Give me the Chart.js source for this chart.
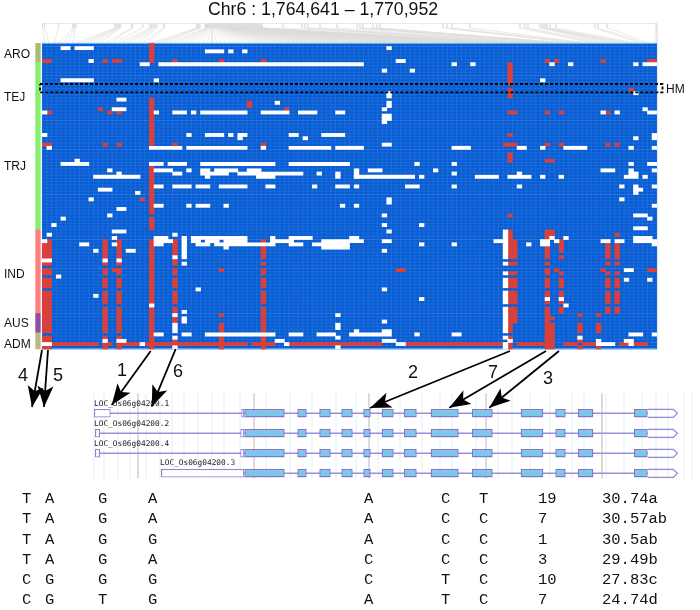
<!DOCTYPE html>
<html>
<head>
<meta charset="utf-8">
<title>Chr6 haplotypes</title>
<script src="https://cdn.jsdelivr.net/npm/chart.js@4/dist/chart.umd.js"></script>
<style>
  html, body { margin: 0; background: #fff; }
  #page { position: relative; width: 700px; height: 610px; overflow: hidden; }
  #page canvas { position: absolute; left: 0; top: 0; }
  .t { position: absolute; white-space: pre; line-height: 1; font-family: "Liberation Sans", sans-serif; color: #111; transform: translateY(-50%); }
  .mono { font-family: "Liberation Mono", monospace; font-size: 15.5px; color: #111; }
  .gene { font-family: "DejaVu Sans Mono", monospace; font-size: 7.8px; color: #222; }
</style>
</head>
<body>
<div id="page"><canvas id="c" width="700" height="610"></canvas></div>
<script>
// heat map: 95 accessions (rows) x 132 variants (columns)
const rowCount = 95;
const colCount = 132;

// accession groups: name, first row, last row
const groupNames = ['ARO', 'TRJ', 'IND', 'AUS', 'ADM'];
const groupFirst = [0, 6, 58, 84, 90];
const groupLast = [5, 57, 83, 89, 94];
const groupColors = ['#a8bd72', '#84f070', '#ff7f7f', '#8e4f9f', '#b9ba7c'];

// [row, fromCol, toCol) - missing calls
const missRuns = [
  [1,4,6],[1,7,11],[1,74,75],[2,35,39],[2,40,41],[2,43,44],[5,10,11],[5,76,78],
  [6,21,23],[6,25,69],[6,88,89],[6,92,93],[6,109,110],[6,113,114],[6,127,128],[6,129,132],
  [8,73,74],[8,79,80],[11,4,11],[11,24,25],[11,107,108],[15,127,128],[17,16,18],[18,50,51],
  [20,15,18],[20,73,74],[20,129,130],[21,0,1],[21,24,25],[21,28,31],[21,32,33],[21,34,44],
  [21,47,53],[21,55,59],[21,63,65],[21,120,121],[21,123,124],[21,130,132],[22,73,75],[23,73,75],[24,73,74],
  [28,0,1],[28,31,32],[28,35,39],[28,40,41],[28,42,44],[28,53,55],[28,60,65],[29,42,43],[29,56,57],[29,127,128],
  [31,73,75],[32,1,2],[32,23,30],[32,31,44],[32,47,48],[32,53,62],[32,63,69],[32,88,92],[32,102,104],
  [32,107,108],[32,112,117],[32,126,127],[32,131,132],[36,7,8],[37,4,10],[37,23,26],[37,27,31],[37,34,50],
  [37,53,66],[37,80,81],[37,88,89],[37,126,127],[37,130,132],[39,14,15],[39,24,28],[39,31,32],[39,34,36],
  [39,37,42],[39,44,47],[39,70,73],[39,84,85],[39,120,123],[39,126,127],[39,131,132],[40,16,17],[40,28,30],
  [40,34,40],[40,42,56],[40,59,60],[40,63,64],[40,88,89],[40,102,103],[40,126,128],[41,11,21],[41,35,36],
  [41,46,50],[41,63,64],[41,67,80],[41,81,82],[41,93,98],[41,100,105],[41,107,108],[41,111,112],[41,125,128],[41,129,130],
  [44,24,26],[44,28,32],[44,33,36],[44,38,44],[44,48,50],[44,58,59],[44,63,66],[44,67,68],[44,78,81],[44,88,89],
  [44,102,103],[44,124,125],[44,127,128],[44,131,132],[45,12,15],[45,127,129],[46,20,21],[46,127,128],
  [48,10,11],[48,74,75],[48,124,125],[49,74,75],[50,24,26],[50,31,32],[50,33,36],[50,39,40],[50,64,65],[50,67,68],[50,131,132],
  [51,16,18],[53,14,15],[53,73,74],[53,127,130],[54,4,5],[54,130,131],[56,2,3],[56,73,74],[56,81,82],[57,127,130],
  [58,15,18],[58,74,75],[59,1,2],
  [60,15,16],[60,24,27],[60,32,44],[60,53,58],[60,66,68],[60,109,110],[60,112,113],[60,127,131],
  [61,0,1],[61,24,28],[61,32,34],[61,35,38],[61,39,44],[61,50,54],[61,60,69],[61,73,75],[61,97,99],[61,107,109],
  [61,110,111],[61,120,122],[61,123,125],[61,127,132],
  [62,8,10],[62,15,16],[62,24,26],[62,33,36],[62,37,49],[62,53,56],[62,58,66],[62,81,82],[62,88,89],[62,104,105],[62,107,109],[62,131,132],
  [63,39,40],[63,60,66],[64,11,12],[64,18,20],[64,73,74],[67,0,2],[67,13,14],[67,16,17],
  [70,125,127],[72,3,4],[73,125,126],[73,130,131],[76,33,34],[76,73,74],[78,11,12],[79,81,82],
  [79,108,109],[79,111,112],[81,23,24],[81,112,113],[86,73,74],[89,67,68],[89,73,75],
  [90,24,26],[90,30,32],[90,35,50],[90,53,56],[90,59,63],[90,66,75],[90,80,81],[90,88,90],[90,126,129],[90,131,132],
  [92,13,14],[92,16,18],[92,50,52],[92,73,76],[92,100,101],[92,119,120],[92,125,127],
  [93,0,2],[93,21,22],[93,52,53],[93,76,78],[93,119,123],[93,126,127]
];
// [col, fromRow, toRow] - missing calls running down a column
const missCols = [
  [99,58,66],[99,68,68],[99,71,71],[99,73,75],[99,77,80],[99,82,89],[99,91,91],[99,93,94],
  [30,60,66],[30,68,68],[30,83,83],[30,85,86],
  [28,59,59],[28,66,66],[28,84,84],[28,87,89],[28,91,91],[28,94,94],
  [63,84,84],[63,87,88],[63,91,91],[63,94,94],[49,60,62],[67,39,41],[74,15,16],[74,18,19],[131,28,29],[115,91,91]
];
// [row, fromCol, toCol) - alternate allele
const altRuns = [
  [5,0,2],[5,13,14],[5,15,17],[5,28,29],[5,38,39],[5,47,48],[5,108,109],[5,110,111],[5,120,121],[5,130,132],
  [14,126,127],[20,12,13],[20,52,53],[21,1,2],[21,14,15],[21,16,17],[21,100,102],[21,108,109],[21,111,112],[21,121,122],
  [31,0,2],[31,13,14],[31,16,17],[31,28,29],[31,47,48],[31,99,102],[31,108,109],[31,111,112],[31,121,122],[31,123,124],
  [36,108,110],[48,21,22],[70,15,17],[70,76,78],[70,110,111],[70,120,121],[70,130,132],
  [93,2,12],[93,13,15],[93,17,21],[93,22,28],[93,29,44],[93,45,50],[93,53,66],[93,66,73],[93,78,99],
  [93,102,108],[93,112,115],[93,116,119],[93,124,126],[93,127,130]
];
// [col, fromRow, toRow] - alternate allele running down a column
const altCols = [
  [23,0,5],[23,17,31],[23,38,52],[23,54,57],[23,61,80],[23,82,94],
  [0,62,66],[0,68,68],[0,70,71],[0,73,75],[0,77,89],[0,91,92],[0,94,94],
  [1,61,66],[1,68,68],[1,70,71],[1,73,75],[1,77,89],[1,91,92],[1,94,94],
  [13,61,66],[13,68,68],[13,70,71],[13,73,75],[13,77,80],[13,82,89],[13,91,91],[13,93,94],
  [16,61,66],[16,68,68],[16,70,71],[16,73,75],[16,77,80],[16,82,89],[16,91,91],[16,93,94],
  [28,61,65],[28,67,68],[28,70,71],[28,73,75],[28,77,80],[28,82,83],[28,85,86],[28,92,93],
  [47,61,66],[47,68,68],[47,70,71],[47,73,75],[47,77,80],[47,82,89],[47,91,94],
  [38,70,70],[38,84,84],[38,87,89],[38,91,92],[38,94,94],[44,18,19],
  [100,6,12],[100,14,16],[100,28,28],[100,34,36],[100,53,53],[100,58,66],[100,68,68],[100,71,71],[100,73,75],[100,77,80],[100,82,89],[100,91,91],[100,93,94],
  [101,61,66],[101,68,68],[101,71,71],[101,73,75],[101,77,80],[101,82,86],
  [108,58,60],[108,62,66],[108,68,68],[108,70,71],[108,73,75],[108,77,78],[108,80,80],[108,82,94],
  [109,58,59],[109,85,85],[109,87,94],
  [111,61,64],[111,66,66],[111,71,71],[111,73,75],[111,77,78],[111,80,80],[111,82,83],
  [121,62,66],[121,68,68],[121,71,71],[121,73,75],[121,77,80],[121,82,83],
  [123,59,59],[123,62,66],[123,68,68],[123,71,71],[123,73,75],[123,77,80],[123,82,83],
  [115,84,84],[115,87,89],[115,92,92],[115,94,94],
  [119,84,84],[119,87,89],[119,92,94]
];

// where each column's variant sits on the region ruler above the heat map
const rulerTicks = [
  42.5,44.3,58.5,72.7,73.7,74.7,76,115,116.2,117.3,118.4,119.5,120.7,131.7,132.7,142.7,150,151.7,153.3,155,156.7,163.5,164.3,196.7,197.7,198.8,200,
  205,205.8,206.5,207.5,208.2,209,209.6,210.5,211.2,212,212.8,213.5,214.4,215,215.8,216.6,217.5,218,218.9,219.7,
  220.5,221.2,222,222.8,223.5,224.3,225,225.9,226.6,227.4,228.2,229,229.7,230.5,231.2,232,232.8,233.5,234.4,235,
  235.8,236.6,237.5,238.1,239,239.7,240.5,241.2,242,242.8,243.6,244.4,245,245.9,246.6,247.4,248.2,249,249.7,250.5,
  251.2,252,252.8,253.6,254.4,255,255.9,256.7,257.5,258.2,259,259.8,260.5,261.3,262,
  283,302,305,308,320,337,357,360,363,373,377,380,443,447,452,470,520,525,528,540,542,544,546,547,550,556,595,598,607,656
];

// gene models, positions along the locus; one list per transcript
const geneNames = ['LOC_Os06g04200.1', 'LOC_Os06g04200.2', 'LOC_Os06g04200.4', 'LOC_Os06g04200.3'];
const geneStart = [0, 1, 1, 67];
const utr5Ends = [16.7, 6, 6, 150.3];
const utr5b = [147.3, 146.3, 146.3, 150.3];
const cdsStart = 150.3;
const cds = [
  [150.3,190.7],[203.3,212.7],[225.3,236.7],[247.3,258.7],[269.3,276.7],[287.7,299.7],[310,322.7],
  [336.7,364.7],[378,398.7],[426.7,449.3],[461.3,471.7],[484,499.3],[540,553.7]
];
const utr3 = [553.7, 579.3];
const geneTip = 583.3;
const darkLines = [44, 160, 275, 392, 508];
const paleLines = [0,10,24,36,52,66,78,90,104,118,130,146,172,196,218,242,262,284,306,328,346,358,382,404,418,436,456,478,490,
  512,530,548,562,574,590,598,610];

// variants called out in the heat map: label, column-side point, gene-side point
const arrowNames = ['4', '5', '1', '6', '2', '7', '3'];
const arrowFrom = [[42,350],[48,350],[150.7,351],[175.7,349],[510,351],[546,351],[559,351]];
const arrowTo = [[32,407],[44,407],[111.7,405],[151.7,406.7],[370,408],[449.3,407.7],[489.3,407.7]];
const arrowLabelAt = [[18,375],[53,375],[117,370],[173,371],[408,372],[488,372],[543,378]];

// haplotype table
const haplotypes = ['TAGAACT', 'TAGAACC', 'TAGGACC', 'TAGACCC', 'CGGGCTC', 'CGTGATC'];
const hapCounts = ['19', '7', '1', '3', '10', '7'];
const hapMeans = ['30.74a', '30.57ab', '30.5ab', '29.49b', '27.83c', '24.74d'];

// ---- layout of the photo
const heatLeft = 42.3, heatTop = 43.3, cellW = 4.655, cellH = 3.217;
const W = 700, H = 610;

function label(text, x, y, size, cls) {
  const d = document.createElement('div');
  d.className = 't' + (cls ? ' ' + cls : '');
  d.textContent = text;
  d.style.left = x + 'px';
  d.style.top = y + 'px';
  if (size) d.style.fontSize = size + 'px';
  document.getElementById('page').appendChild(d);
}

function rowBars(runs, cols) {
  const out = runs.map(r => ({ y: r[0] + 0.5, x: [r[1], r[2]] }));
  cols.forEach(c => {
    for (let r = c[1]; r <= c[2]; r++) out.push({ y: r + 0.5, x: [c[0], c[0] + 1] });
  });
  return out;
}

const baseBars = [];
for (let r = 0; r < rowCount; r++) baseBars.push({ y: r + 0.5, x: [0, colCount] });

const groupBars = [];
const groupBarColors = [];
groupNames.forEach((g, i) => {
  for (let r = groupFirst[i]; r <= groupLast[i]; r++) {
    groupBars.push({ y: r + 0.5, x: [-1.42, -0.43] });
    groupBarColors.push(groupColors[i]);
  }
});

// region ruler and its connectors
const treeLines = [{ x: 42, y: 23.5 }, { x: 657, y: 23.5 }, { x: 657, y: 43 }, { x: null, y: null }];
rulerTicks.forEach((t, i) => {
  treeLines.push({ x: t, y: 23.5 }, { x: t, y: 28 },
    { x: heatLeft + (i + 0.5) * cellW, y: 43 }, { x: null, y: null });
});

const heatOpts = { type: 'bar', indexAxis: 'y', grouped: false, xAxisID: 'xHeat', yAxisID: 'yHeat', barPercentage: 1, categoryPercentage: 1, borderWidth: 0 };
const geneOpts = { type: 'bar', indexAxis: 'y', grouped: false, xAxisID: 'xGene', yAxisID: 'yGene', categoryPercentage: 1, borderSkipped: false };
const pageOpts = { type: 'scatter', showLine: true, pointRadius: 0, xAxisID: 'xPage', yAxisID: 'yPage', spanGaps: false };
const geneLine = { type: 'scatter', showLine: true, pointRadius: 0, xAxisID: 'xGene', yAxisID: 'yGene', spanGaps: false };

function vLines(list, top, bottom) {
  const out = [];
  list.forEach(x => out.push({ x, y: top }, { x, y: bottom }, { x: null, y: null }));
  return out;
}

const exonBars = [], utrBars = [], intronLines = [], tipLines = [];
geneNames.forEach((g, t) => {
  cds.forEach(e => exonBars.push({ y: t, x: e }));
  utrBars.push({ y: t, x: [geneStart[t], utr5Ends[t]] });
  if (utr5b[t] < cdsStart) utrBars.push({ y: t, x: [utr5b[t], cdsStart] });
  intronLines.push({ x: geneStart[t], y: t }, { x: cds[cds.length - 1][1], y: t }, { x: null, y: null });
  tipLines.push({ x: utr3[0], y: t - 0.2 }, { x: utr3[1], y: t - 0.2 }, { x: geneTip, y: t },
    { x: utr3[1], y: t + 0.2 }, { x: utr3[0], y: t + 0.2 }, { x: null, y: null });
});

const datasets = [
  // heat map
  Object.assign({}, heatOpts, { label: 'missing', order: 10, data: rowBars(missRuns, missCols), backgroundColor: '#ffffff' }),
  Object.assign({}, heatOpts, { label: 'alternate', order: 11, data: rowBars(altRuns, altCols), backgroundColor: '#d8403c' }),
  Object.assign({}, heatOpts, { label: 'reference', order: 13, data: baseBars, backgroundColor: '#0a5cd2' }),
  Object.assign({}, heatOpts, { label: 'groups', order: 12, data: groupBars, backgroundColor: groupBarColors }),
  // connectors above the map
  Object.assign({}, pageOpts, { label: 'ruler', order: 14, data: treeLines, borderColor: '#dcdcdc', borderWidth: 0.6 }),
  // gene tracks
  Object.assign({}, geneLine, { label: 'pale', order: 30, data: vLines(paleLines, -1, 3.25), borderColor: '#eef7fa', borderWidth: 1 }),
  Object.assign({}, geneLine, { label: 'dark', order: 29, data: vLines(darkLines, -1, 3.25), borderColor: '#d6d6d6', borderWidth: 1 }),
  Object.assign({}, geneLine, { label: 'intron', order: 28, data: intronLines, borderColor: '#9a90dc', borderWidth: 1.6 }),
  Object.assign({}, geneOpts, { label: 'utr', order: 27, barPercentage: 0.42, data: utrBars, backgroundColor: '#ffffff', borderColor: '#8f86d8', borderWidth: 1.2 }),
  Object.assign({}, geneLine, { label: 'tip', order: 26, data: tipLines, backgroundColor: '#ffffff', borderColor: '#8f86d8', borderWidth: 1.2 }),
  Object.assign({}, geneOpts, { label: 'exon', order: 25, barPercentage: 0.42, data: exonBars, backgroundColor: '#7cc6ea', borderColor: '#7d78cc', borderWidth: 1.4 }),
  // HM box
  Object.assign({}, pageOpts, { label: 'HM', order: 5, data: [{ x: 40, y: 84 }, { x: 662.5, y: 84 }, { x: 662.5, y: 92.3 }, { x: 40, y: 92.3 }, { x: 40, y: 84 }],
    borderColor: '#000', borderWidth: 1.8, borderDash: [3, 2] })
];
arrowFrom.forEach((p, i) => {
  datasets.push(Object.assign({}, pageOpts, { label: 'arrow ' + arrowNames[i], order: 1,
    data: [{ x: p[0], y: p[1] }, { x: arrowTo[i][0], y: arrowTo[i][1] }], borderColor: '#000', borderWidth: 1.8 }));
});

// faint cell lines, drawn on top of the blue only
const cellLines = {
  id: 'cellLines',
  afterDatasetDraw(chart, args) {
    if (args.meta.label !== 'reference') return;
    const { ctx, scales } = chart;
    const x0 = scales.xHeat.getPixelForValue(0), x1 = scales.xHeat.getPixelForValue(colCount);
    const y0 = scales.yHeat.getPixelForValue(0), y1 = scales.yHeat.getPixelForValue(rowCount);
    ctx.save();
    ctx.strokeStyle = 'rgba(90,170,255,0.3)';
    ctx.lineWidth = 0.6;
    ctx.beginPath();
    for (let c = 0; c <= colCount; c++) {
      const x = scales.xHeat.getPixelForValue(c);
      ctx.moveTo(x, y0); ctx.lineTo(x, y1);
    }
    for (let r = 0; r <= rowCount; r++) {
      const y = scales.yHeat.getPixelForValue(r);
      ctx.moveTo(x0, y); ctx.lineTo(x1, y);
    }
    ctx.stroke();
    // paler edge along the top and bottom of the map
    ctx.strokeStyle = '#8fc0f0';
    ctx.lineWidth = 1;
    ctx.beginPath();
    ctx.moveTo(x0, y0); ctx.lineTo(x1, y0);
    ctx.moveTo(x0, y1); ctx.lineTo(x1, y1);
    ctx.stroke();
    ctx.restore();
  }
};

// arrow heads for the call-outs
const arrowHeads = {
  id: 'arrowHeads',
  afterDatasetsDraw(chart) {
    const { ctx, scales } = chart;
    ctx.save();
    ctx.fillStyle = '#000';
    arrowTo.forEach((p, i) => {
      const tx = scales.xPage.getPixelForValue(p[0]), ty = scales.yPage.getPixelForValue(p[1]);
      const a = Math.atan2(p[1] - arrowFrom[i][1], p[0] - arrowFrom[i][0]);
      ctx.save();
      ctx.translate(tx, ty);
      ctx.rotate(a);
      ctx.beginPath();
      ctx.moveTo(0, 0);
      ctx.lineTo(-21, -8);
      ctx.lineTo(-16, 0);
      ctx.lineTo(-21, 8);
      ctx.closePath();
      ctx.fill();
      ctx.restore();
    });
    ctx.restore();
  }
};

function hidden(axis, min, max, reverse) {
  return { type: 'linear', axis, min, max, reverse: !!reverse, offset: false, display: false, grid: { display: false } };
}

new Chart(document.getElementById('c'), {
  type: 'bar',
  data: { datasets },
  options: {
    responsive: false,
    animation: false,
    events: [],
    layout: { padding: 0 },
    plugins: { legend: { display: false }, title: { display: false }, tooltip: { enabled: false } },
    elements: { line: { tension: 0 } },
    scales: {
      xHeat: hidden('x', -heatLeft / cellW, (W - heatLeft) / cellW),
      yHeat: hidden('y', -heatTop / cellH, (H - heatTop) / cellH, true),
      xGene: hidden('x', -94, W - 94),
      yGene: hidden('y', -413.3 / 20, (H - 413.3) / 20, true),
      xPage: hidden('x', 0, W),
      yPage: hidden('y', 0, H, true)
    }
  },
  plugins: [cellLines, arrowHeads]
});

// ---- text
label('Chr6 : 1,764,641 \u2013 1,770,952', 208, 10, 17.7);
label('HM', 666, 88.5, 12);
const groupLabelNames = ['ARO', 'TEJ', 'TRJ', 'IND', 'AUS', 'ADM'];
const groupLabelY = [54, 96.5, 166, 274, 322.5, 344];
groupLabelNames.forEach((g, i) => label(g, 4, groupLabelY[i], 12));
arrowNames.forEach((n, i) => label(n, arrowLabelAt[i][0], arrowLabelAt[i][1], 18));

const geneLabelX = [94, 94, 94, 160];
const geneLabelY = [404, 424, 444, 463];
geneNames.forEach((g, i) => label(g, geneLabelX[i], geneLabelY[i], 0, 'gene'));

const letterX = [22, 45, 98, 148, 364, 441, 479];
const countX = 538, meanX = 602;
const tableY = [500, 520, 541, 561, 581, 601];
haplotypes.forEach((h, r) => {
  h.split('').forEach((ch, c) => label(ch, letterX[c], tableY[r], 0, 'mono'));
  label(hapCounts[r], countX, tableY[r], 0, 'mono');
  label(hapMeans[r], meanX, tableY[r], 0, 'mono');
});
</script>
</body>
</html>
